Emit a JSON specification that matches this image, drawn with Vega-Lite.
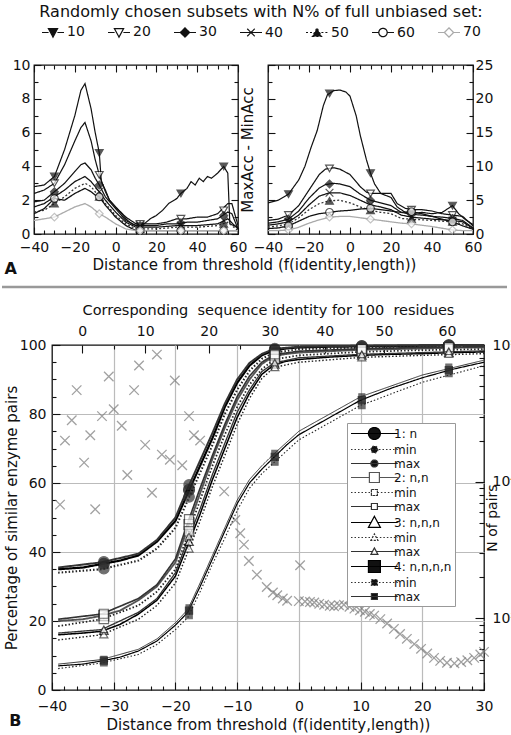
{
  "$schema": "https://vega.github.io/schema/vega-lite/v6.json",
  "padding": {"left": 0, "top": 3, "right": 0, "bottom": 0},
  "background": "white",
  "config": {
    "font": "DejaVu Sans",
    "view": {"stroke": "#111", "strokeWidth": 1.3},
    "axis": {"domain": false, "grid": false, "labelFont": "DejaVu Sans", "labelFontSize": 14, "labelColor": "#111", "tickColor": "#111", "tickWidth": 1.1, "titleFont": "DejaVu Sans", "titleFontWeight": "normal", "titleFontSize": 15, "titleColor": "#111", "labelFlush": false, "labelOverlap": false, "labelBound": false},
    "legend": {"labelFont": "DejaVu Sans", "titleFont": "DejaVu Sans", "labelColor": "#111", "titleColor": "#111"},
    "title": {"font": "DejaVu Sans", "color": "#111"},
    "text": {"font": "DejaVu Sans"}
  },
  "datasets": {
    "aLines": [
      {"p":"L","g":"10","x":-40,"v":2.8},{"p":"L","g":"10","x":-35,"v":2.9},{"p":"L","g":"10","x":-30,"v":3.4},{"p":"L","g":"10","x":-25,"v":5.0},{"p":"L","g":"10","x":-20,"v":7.0},{"p":"L","g":"10","x":-17,"v":8.5},{"p":"L","g":"10","x":-15,"v":8.9},{"p":"L","g":"10","x":-12,"v":7.4},{"p":"L","g":"10","x":-10,"v":6.0},{"p":"L","g":"10","x":-8,"v":4.8},{"p":"L","g":"10","x":-7,"v":3.1},{"p":"L","g":"10","x":-5,"v":2.6},{"p":"L","g":"10","x":-3,"v":2.0},{"p":"L","g":"10","x":0,"v":1.6},{"p":"L","g":"10","x":3,"v":1.2},{"p":"L","g":"10","x":5,"v":0.9},{"p":"L","g":"10","x":8,"v":0.6},{"p":"L","g":"10","x":10,"v":0.5},{"p":"L","g":"10","x":14,"v":0.6},{"p":"L","g":"10","x":17,"v":0.9},{"p":"L","g":"10","x":20,"v":1.1},{"p":"L","g":"10","x":23,"v":1.4},{"p":"L","g":"10","x":26,"v":1.8},{"p":"L","g":"10","x":30,"v":2.1},{"p":"L","g":"10","x":32,"v":2.4},{"p":"L","g":"10","x":35,"v":2.7},{"p":"L","g":"10","x":37,"v":3.1},{"p":"L","g":"10","x":39,"v":2.9},{"p":"L","g":"10","x":41,"v":3.3},{"p":"L","g":"10","x":43,"v":3.1},{"p":"L","g":"10","x":45,"v":3.4},{"p":"L","g":"10","x":47,"v":3.3},{"p":"L","g":"10","x":50,"v":3.6},{"p":"L","g":"10","x":53,"v":4.0},{"p":"L","g":"10","x":55,"v":3.6},{"p":"L","g":"10","x":56,"v":0.6},{"p":"L","g":"10","x":60,"v":0.4},
      {"p":"L","g":"20","x":-40,"v":2.4},{"p":"L","g":"20","x":-35,"v":2.6},{"p":"L","g":"20","x":-30,"v":3.0},{"p":"L","g":"20","x":-25,"v":4.1},{"p":"L","g":"20","x":-20,"v":5.5},{"p":"L","g":"20","x":-17,"v":6.3},{"p":"L","g":"20","x":-15,"v":6.6},{"p":"L","g":"20","x":-12,"v":5.5},{"p":"L","g":"20","x":-10,"v":4.4},{"p":"L","g":"20","x":-8,"v":3.5},{"p":"L","g":"20","x":-5,"v":2.5},{"p":"L","g":"20","x":-3,"v":2.0},{"p":"L","g":"20","x":0,"v":1.6},{"p":"L","g":"20","x":5,"v":1.0},{"p":"L","g":"20","x":10,"v":0.6},{"p":"L","g":"20","x":15,"v":0.6},{"p":"L","g":"20","x":20,"v":0.6},{"p":"L","g":"20","x":25,"v":0.7},{"p":"L","g":"20","x":30,"v":0.9},{"p":"L","g":"20","x":35,"v":0.9},{"p":"L","g":"20","x":40,"v":1.0},{"p":"L","g":"20","x":45,"v":1.0},{"p":"L","g":"20","x":50,"v":1.2},{"p":"L","g":"20","x":55,"v":1.8},{"p":"L","g":"20","x":57,"v":1.8},{"p":"L","g":"20","x":60,"v":0.5},
      {"p":"L","g":"30","x":-40,"v":1.9},{"p":"L","g":"30","x":-35,"v":2.0},{"p":"L","g":"30","x":-30,"v":2.5},{"p":"L","g":"30","x":-25,"v":3.0},{"p":"L","g":"30","x":-20,"v":3.7},{"p":"L","g":"30","x":-17,"v":4.1},{"p":"L","g":"30","x":-15,"v":4.2},{"p":"L","g":"30","x":-12,"v":3.8},{"p":"L","g":"30","x":-10,"v":3.3},{"p":"L","g":"30","x":-8,"v":2.9},{"p":"L","g":"30","x":-5,"v":2.2},{"p":"L","g":"30","x":0,"v":1.5},{"p":"L","g":"30","x":5,"v":0.8},{"p":"L","g":"30","x":10,"v":0.5},{"p":"L","g":"30","x":15,"v":0.5},{"p":"L","g":"30","x":20,"v":0.5},{"p":"L","g":"30","x":25,"v":0.6},{"p":"L","g":"30","x":30,"v":0.6},{"p":"L","g":"30","x":35,"v":0.7},{"p":"L","g":"30","x":40,"v":0.7},{"p":"L","g":"30","x":45,"v":0.8},{"p":"L","g":"30","x":50,"v":0.9},{"p":"L","g":"30","x":55,"v":1.3},{"p":"L","g":"30","x":57,"v":1.2},{"p":"L","g":"30","x":60,"v":0.3},
      {"p":"L","g":"40","x":-40,"v":1.6},{"p":"L","g":"40","x":-35,"v":1.8},{"p":"L","g":"40","x":-30,"v":2.2},{"p":"L","g":"40","x":-25,"v":2.6},{"p":"L","g":"40","x":-20,"v":3.1},{"p":"L","g":"40","x":-15,"v":3.4},{"p":"L","g":"40","x":-12,"v":3.1},{"p":"L","g":"40","x":-10,"v":2.8},{"p":"L","g":"40","x":-8,"v":2.5},{"p":"L","g":"40","x":-5,"v":2.0},{"p":"L","g":"40","x":0,"v":1.3},{"p":"L","g":"40","x":5,"v":0.7},{"p":"L","g":"40","x":10,"v":0.4},{"p":"L","g":"40","x":20,"v":0.4},{"p":"L","g":"40","x":30,"v":0.5},{"p":"L","g":"40","x":40,"v":0.5},{"p":"L","g":"40","x":50,"v":0.6},{"p":"L","g":"40","x":55,"v":0.9},{"p":"L","g":"40","x":60,"v":0.3},
      {"p":"L","g":"50","x":-40,"v":1.3},{"p":"L","g":"50","x":-35,"v":1.4},{"p":"L","g":"50","x":-30,"v":1.8},{"p":"L","g":"50","x":-25,"v":2.2},{"p":"L","g":"50","x":-20,"v":2.7},{"p":"L","g":"50","x":-15,"v":3.0},{"p":"L","g":"50","x":-12,"v":2.8},{"p":"L","g":"50","x":-10,"v":2.5},{"p":"L","g":"50","x":-8,"v":2.2},{"p":"L","g":"50","x":-5,"v":1.8},{"p":"L","g":"50","x":0,"v":1.1},{"p":"L","g":"50","x":5,"v":0.6},{"p":"L","g":"50","x":10,"v":0.3},{"p":"L","g":"50","x":20,"v":0.3},{"p":"L","g":"50","x":30,"v":0.4},{"p":"L","g":"50","x":40,"v":0.4},{"p":"L","g":"50","x":50,"v":0.5},{"p":"L","g":"50","x":55,"v":0.7},{"p":"L","g":"50","x":60,"v":0.2},
      {"p":"L","g":"60","x":-40,"v":1.2},{"p":"L","g":"60","x":-35,"v":1.5},{"p":"L","g":"60","x":-30,"v":2.1},{"p":"L","g":"60","x":-25,"v":2.0},{"p":"L","g":"60","x":-20,"v":2.4},{"p":"L","g":"60","x":-15,"v":2.7},{"p":"L","g":"60","x":-12,"v":2.5},{"p":"L","g":"60","x":-10,"v":2.3},{"p":"L","g":"60","x":-8,"v":2.2},{"p":"L","g":"60","x":-5,"v":1.7},{"p":"L","g":"60","x":0,"v":1.0},{"p":"L","g":"60","x":5,"v":0.5},{"p":"L","g":"60","x":10,"v":0.2},{"p":"L","g":"60","x":20,"v":0.2},{"p":"L","g":"60","x":30,"v":0.2},{"p":"L","g":"60","x":40,"v":0.2},{"p":"L","g":"60","x":50,"v":0.2},{"p":"L","g":"60","x":60,"v":0.2},
      {"p":"L","g":"70","x":-40,"v":0.8},{"p":"L","g":"70","x":-35,"v":0.9},{"p":"L","g":"70","x":-30,"v":1.0},{"p":"L","g":"70","x":-25,"v":1.3},{"p":"L","g":"70","x":-20,"v":1.6},{"p":"L","g":"70","x":-15,"v":1.8},{"p":"L","g":"70","x":-12,"v":1.6},{"p":"L","g":"70","x":-10,"v":1.4},{"p":"L","g":"70","x":-8,"v":1.2},{"p":"L","g":"70","x":-5,"v":1.0},{"p":"L","g":"70","x":0,"v":0.6},{"p":"L","g":"70","x":5,"v":0.3},{"p":"L","g":"70","x":10,"v":0.2},{"p":"L","g":"70","x":20,"v":0.2},{"p":"L","g":"70","x":30,"v":0.2},{"p":"L","g":"70","x":40,"v":0.2},{"p":"L","g":"70","x":50,"v":0.2},{"p":"L","g":"70","x":60,"v":0.2},
      {"p":"R","g":"10","x":-40,"v":4.6},{"p":"R","g":"10","x":-35,"v":5.0},{"p":"R","g":"10","x":-30,"v":5.9},{"p":"R","g":"10","x":-25,"v":8.0},{"p":"R","g":"10","x":-22,"v":10.0},{"p":"R","g":"10","x":-19,"v":12.8},{"p":"R","g":"10","x":-16,"v":15.3},{"p":"R","g":"10","x":-13,"v":19.0},{"p":"R","g":"10","x":-11,"v":20.6},{"p":"R","g":"10","x":-8,"v":21.2},{"p":"R","g":"10","x":-5,"v":21.3},{"p":"R","g":"10","x":-2,"v":21.0},{"p":"R","g":"10","x":0,"v":20.4},{"p":"R","g":"10","x":3,"v":17.5},{"p":"R","g":"10","x":5,"v":14.6},{"p":"R","g":"10","x":8,"v":11.0},{"p":"R","g":"10","x":10,"v":9.0},{"p":"R","g":"10","x":12,"v":7.4},{"p":"R","g":"10","x":15,"v":6.0},{"p":"R","g":"10","x":20,"v":5.4},{"p":"R","g":"10","x":23,"v":4.0},{"p":"R","g":"10","x":27,"v":3.2},{"p":"R","g":"10","x":30,"v":3.0},{"p":"R","g":"10","x":35,"v":3.2},{"p":"R","g":"10","x":40,"v":3.0},{"p":"R","g":"10","x":45,"v":3.2},{"p":"R","g":"10","x":50,"v":4.2},{"p":"R","g":"10","x":53,"v":3.0},{"p":"R","g":"10","x":56,"v":2.2},{"p":"R","g":"10","x":60,"v":1.4},
      {"p":"R","g":"20","x":-40,"v":2.0},{"p":"R","g":"20","x":-35,"v":2.2},{"p":"R","g":"20","x":-30,"v":2.8},{"p":"R","g":"20","x":-25,"v":4.2},{"p":"R","g":"20","x":-20,"v":6.5},{"p":"R","g":"20","x":-15,"v":8.8},{"p":"R","g":"20","x":-12,"v":9.6},{"p":"R","g":"20","x":-8,"v":9.8},{"p":"R","g":"20","x":-5,"v":9.6},{"p":"R","g":"20","x":0,"v":8.8},{"p":"R","g":"20","x":5,"v":7.0},{"p":"R","g":"20","x":8,"v":6.2},{"p":"R","g":"20","x":10,"v":6.0},{"p":"R","g":"20","x":15,"v":6.0},{"p":"R","g":"20","x":20,"v":6.0},{"p":"R","g":"20","x":23,"v":4.5},{"p":"R","g":"20","x":27,"v":3.8},{"p":"R","g":"20","x":30,"v":3.6},{"p":"R","g":"20","x":35,"v":3.6},{"p":"R","g":"20","x":40,"v":3.4},{"p":"R","g":"20","x":45,"v":3.0},{"p":"R","g":"20","x":50,"v":2.8},{"p":"R","g":"20","x":55,"v":2.6},{"p":"R","g":"20","x":60,"v":1.2},
      {"p":"R","g":"30","x":-40,"v":1.6},{"p":"R","g":"30","x":-35,"v":1.8},{"p":"R","g":"30","x":-30,"v":2.2},{"p":"R","g":"30","x":-25,"v":3.4},{"p":"R","g":"30","x":-20,"v":5.3},{"p":"R","g":"30","x":-15,"v":6.8},{"p":"R","g":"30","x":-12,"v":7.3},{"p":"R","g":"30","x":-8,"v":7.5},{"p":"R","g":"30","x":-5,"v":7.4},{"p":"R","g":"30","x":0,"v":7.0},{"p":"R","g":"30","x":5,"v":5.9},{"p":"R","g":"30","x":10,"v":5.0},{"p":"R","g":"30","x":15,"v":4.6},{"p":"R","g":"30","x":20,"v":4.2},{"p":"R","g":"30","x":25,"v":3.2},{"p":"R","g":"30","x":30,"v":2.9},{"p":"R","g":"30","x":35,"v":2.8},{"p":"R","g":"30","x":40,"v":2.6},{"p":"R","g":"30","x":45,"v":2.5},{"p":"R","g":"30","x":50,"v":2.3},{"p":"R","g":"30","x":55,"v":2.0},{"p":"R","g":"30","x":60,"v":0.9},
      {"p":"R","g":"40","x":-40,"v":1.3},{"p":"R","g":"40","x":-35,"v":1.5},{"p":"R","g":"40","x":-30,"v":1.8},{"p":"R","g":"40","x":-25,"v":2.8},{"p":"R","g":"40","x":-20,"v":4.3},{"p":"R","g":"40","x":-15,"v":5.6},{"p":"R","g":"40","x":-10,"v":6.1},{"p":"R","g":"40","x":-5,"v":6.1},{"p":"R","g":"40","x":0,"v":5.7},{"p":"R","g":"40","x":5,"v":5.0},{"p":"R","g":"40","x":10,"v":4.3},{"p":"R","g":"40","x":15,"v":4.0},{"p":"R","g":"40","x":20,"v":3.6},{"p":"R","g":"40","x":25,"v":2.8},{"p":"R","g":"40","x":30,"v":2.5},{"p":"R","g":"40","x":40,"v":2.2},{"p":"R","g":"40","x":50,"v":2.0},{"p":"R","g":"40","x":55,"v":1.8},{"p":"R","g":"40","x":60,"v":0.8},
      {"p":"R","g":"50","x":-40,"v":1.0},{"p":"R","g":"50","x":-35,"v":1.2},{"p":"R","g":"50","x":-30,"v":1.5},{"p":"R","g":"50","x":-25,"v":2.4},{"p":"R","g":"50","x":-20,"v":3.6},{"p":"R","g":"50","x":-15,"v":4.5},{"p":"R","g":"50","x":-10,"v":4.9},{"p":"R","g":"50","x":-5,"v":5.0},{"p":"R","g":"50","x":0,"v":4.6},{"p":"R","g":"50","x":5,"v":4.0},{"p":"R","g":"50","x":10,"v":3.5},{"p":"R","g":"50","x":15,"v":3.2},{"p":"R","g":"50","x":20,"v":3.0},{"p":"R","g":"50","x":25,"v":2.3},{"p":"R","g":"50","x":30,"v":2.2},{"p":"R","g":"50","x":40,"v":2.0},{"p":"R","g":"50","x":50,"v":1.8},{"p":"R","g":"50","x":55,"v":1.5},{"p":"R","g":"50","x":60,"v":0.7},
      {"p":"R","g":"60","x":-40,"v":0.8},{"p":"R","g":"60","x":-35,"v":0.9},{"p":"R","g":"60","x":-30,"v":1.2},{"p":"R","g":"60","x":-25,"v":1.9},{"p":"R","g":"60","x":-20,"v":2.6},{"p":"R","g":"60","x":-15,"v":3.0},{"p":"R","g":"60","x":-10,"v":3.2},{"p":"R","g":"60","x":-5,"v":3.4},{"p":"R","g":"60","x":0,"v":3.5},{"p":"R","g":"60","x":5,"v":3.7},{"p":"R","g":"60","x":10,"v":3.8},{"p":"R","g":"60","x":15,"v":3.6},{"p":"R","g":"60","x":20,"v":3.4},{"p":"R","g":"60","x":25,"v":3.2},{"p":"R","g":"60","x":30,"v":3.3},{"p":"R","g":"60","x":35,"v":3.0},{"p":"R","g":"60","x":40,"v":2.6},{"p":"R","g":"60","x":45,"v":2.2},{"p":"R","g":"60","x":50,"v":1.8},{"p":"R","g":"60","x":55,"v":1.2},{"p":"R","g":"60","x":60,"v":0.7},
      {"p":"R","g":"70","x":-40,"v":0.5},{"p":"R","g":"70","x":-35,"v":0.5},{"p":"R","g":"70","x":-30,"v":0.6},{"p":"R","g":"70","x":-25,"v":1.0},{"p":"R","g":"70","x":-20,"v":1.6},{"p":"R","g":"70","x":-15,"v":2.1},{"p":"R","g":"70","x":-10,"v":2.5},{"p":"R","g":"70","x":-5,"v":2.6},{"p":"R","g":"70","x":0,"v":2.6},{"p":"R","g":"70","x":5,"v":2.4},{"p":"R","g":"70","x":10,"v":2.2},{"p":"R","g":"70","x":15,"v":2.0},{"p":"R","g":"70","x":20,"v":1.8},{"p":"R","g":"70","x":25,"v":1.6},{"p":"R","g":"70","x":30,"v":1.5},{"p":"R","g":"70","x":40,"v":1.1},{"p":"R","g":"70","x":50,"v":0.6},{"p":"R","g":"70","x":55,"v":0.5},{"p":"R","g":"70","x":60,"v":0.5}
    ],
    "aMarks": [
      {"p":"L","g":"10","x":-30,"v":3.4},{"p":"L","g":"10","x":-8,"v":4.8},{"p":"L","g":"10","x":12,"v":0.5},{"p":"L","g":"10","x":32,"v":2.4},{"p":"L","g":"10","x":53,"v":4.0},
      {"p":"L","g":"20","x":-30,"v":3.0},{"p":"L","g":"20","x":-8,"v":3.5},{"p":"L","g":"20","x":12,"v":0.6},{"p":"L","g":"20","x":32,"v":0.9},{"p":"L","g":"20","x":53,"v":1.4},
      {"p":"L","g":"30","x":-30,"v":2.5},{"p":"L","g":"30","x":-8,"v":2.9},{"p":"L","g":"30","x":12,"v":0.5},{"p":"L","g":"30","x":32,"v":0.65},{"p":"L","g":"30","x":53,"v":1.1},
      {"p":"L","g":"40","x":-30,"v":2.2},{"p":"L","g":"40","x":-8,"v":2.5},{"p":"L","g":"40","x":12,"v":0.4},{"p":"L","g":"40","x":32,"v":0.5},{"p":"L","g":"40","x":53,"v":0.8},
      {"p":"L","g":"50","x":-30,"v":1.8},{"p":"L","g":"50","x":-8,"v":2.2},{"p":"L","g":"50","x":12,"v":0.3},{"p":"L","g":"50","x":32,"v":0.4},{"p":"L","g":"50","x":53,"v":0.6},
      {"p":"L","g":"60","x":-30,"v":2.1},{"p":"L","g":"60","x":-8,"v":2.2},{"p":"L","g":"60","x":12,"v":0.2},{"p":"L","g":"60","x":32,"v":0.2},{"p":"L","g":"60","x":53,"v":0.2},
      {"p":"L","g":"70","x":-30,"v":1.0},{"p":"L","g":"70","x":-8,"v":1.2},{"p":"L","g":"70","x":12,"v":0.2},{"p":"L","g":"70","x":32,"v":0.2},{"p":"L","g":"70","x":53,"v":0.2},
      {"p":"R","g":"10","x":-30,"v":5.9},{"p":"R","g":"10","x":-10,"v":20.8},{"p":"R","g":"10","x":10,"v":9.0},{"p":"R","g":"10","x":30,"v":3.0},{"p":"R","g":"10","x":50,"v":4.2},
      {"p":"R","g":"20","x":-30,"v":2.8},{"p":"R","g":"20","x":-10,"v":9.7},{"p":"R","g":"20","x":10,"v":6.0},{"p":"R","g":"20","x":30,"v":3.6},{"p":"R","g":"20","x":50,"v":2.8},
      {"p":"R","g":"30","x":-30,"v":2.2},{"p":"R","g":"30","x":-10,"v":7.4},{"p":"R","g":"30","x":10,"v":5.0},{"p":"R","g":"30","x":30,"v":2.9},{"p":"R","g":"30","x":50,"v":2.3},
      {"p":"R","g":"40","x":-30,"v":1.8},{"p":"R","g":"40","x":-10,"v":6.1},{"p":"R","g":"40","x":10,"v":4.3},{"p":"R","g":"40","x":30,"v":2.5},{"p":"R","g":"40","x":50,"v":2.0},
      {"p":"R","g":"50","x":-30,"v":1.5},{"p":"R","g":"50","x":-10,"v":4.9},{"p":"R","g":"50","x":10,"v":3.5},{"p":"R","g":"50","x":30,"v":2.2},{"p":"R","g":"50","x":50,"v":1.8},
      {"p":"R","g":"60","x":-30,"v":1.2},{"p":"R","g":"60","x":-10,"v":3.2},{"p":"R","g":"60","x":10,"v":3.8},{"p":"R","g":"60","x":30,"v":3.3},{"p":"R","g":"60","x":50,"v":1.8},
      {"p":"R","g":"70","x":-30,"v":0.6},{"p":"R","g":"70","x":-10,"v":2.5},{"p":"R","g":"70","x":10,"v":2.2},{"p":"R","g":"70","x":30,"v":1.5},{"p":"R","g":"70","x":50,"v":0.6}
    ],
    "bLines": [
      {"s":"1","x":-39,"p":35},{"s":"1","x":-35,"p":35.5},{"s":"1","x":-32,"p":36.5},{"s":"1","x":-29,"p":37.5},{"s":"1","x":-26,"p":39},{"s":"1","x":-23,"p":43},{"s":"1","x":-20,"p":49},{"s":"1","x":-18,"p":57},{"s":"1","x":-16,"p":65},{"s":"1","x":-14,"p":73},{"s":"1","x":-12,"p":82},{"s":"1","x":-10,"p":89},{"s":"1","x":-8,"p":94},{"s":"1","x":-6,"p":97},{"s":"1","x":-4,"p":98.5},{"s":"1","x":-2,"p":99},{"s":"1","x":0,"p":99.3},{"s":"1","x":5,"p":99.5},{"s":"1","x":10,"p":99.6},{"s":"1","x":15,"p":99.7},{"s":"1","x":20,"p":99.8},{"s":"1","x":25,"p":99.9},{"s":"1","x":30,"p":100},
      {"s":"2","x":-39,"p":20},{"s":"2","x":-35,"p":20.5},{"s":"2","x":-32,"p":21.5},{"s":"2","x":-29,"p":23},{"s":"2","x":-26,"p":26},{"s":"2","x":-23,"p":30},{"s":"2","x":-20,"p":37},{"s":"2","x":-18,"p":47},{"s":"2","x":-16,"p":57},{"s":"2","x":-14,"p":67},{"s":"2","x":-12,"p":76},{"s":"2","x":-10,"p":84},{"s":"2","x":-8,"p":90},{"s":"2","x":-6,"p":94.5},{"s":"2","x":-4,"p":96.8},{"s":"2","x":-2,"p":97.4},{"s":"2","x":0,"p":97.8},{"s":"2","x":5,"p":98.2},{"s":"2","x":10,"p":98.6},{"s":"2","x":15,"p":98.8},{"s":"2","x":20,"p":99},{"s":"2","x":25,"p":99.2},{"s":"2","x":30,"p":99.3},
      {"s":"3","x":-39,"p":16},{"s":"3","x":-35,"p":16.5},{"s":"3","x":-32,"p":17},{"s":"3","x":-29,"p":19},{"s":"3","x":-26,"p":22},{"s":"3","x":-23,"p":26},{"s":"3","x":-20,"p":33},{"s":"3","x":-18,"p":42},{"s":"3","x":-16,"p":51},{"s":"3","x":-14,"p":61},{"s":"3","x":-12,"p":70},{"s":"3","x":-10,"p":79},{"s":"3","x":-8,"p":86},{"s":"3","x":-6,"p":91.5},{"s":"3","x":-4,"p":94.3},{"s":"3","x":-2,"p":95.3},{"s":"3","x":0,"p":95.8},{"s":"3","x":5,"p":96.5},{"s":"3","x":10,"p":97},{"s":"3","x":15,"p":97.3},{"s":"3","x":20,"p":97.5},{"s":"3","x":25,"p":97.8},{"s":"3","x":30,"p":98},
      {"s":"4","x":-39,"p":7},{"s":"4","x":-35,"p":7.5},{"s":"4","x":-32,"p":8.4},{"s":"4","x":-29,"p":9.5},{"s":"4","x":-26,"p":11.3},{"s":"4","x":-23,"p":14.2},{"s":"4","x":-20,"p":18.8},{"s":"4","x":-18,"p":22.5},{"s":"4","x":-16,"p":30},{"s":"4","x":-14,"p":38},{"s":"4","x":-12,"p":46},{"s":"4","x":-10,"p":54},{"s":"4","x":-8,"p":60},{"s":"4","x":-6,"p":64},{"s":"4","x":-4,"p":67.5},{"s":"4","x":-2,"p":71},{"s":"4","x":0,"p":74},{"s":"4","x":5,"p":79},{"s":"4","x":10,"p":84},{"s":"4","x":15,"p":87.5},{"s":"4","x":20,"p":90.5},{"s":"4","x":25,"p":93},{"s":"4","x":30,"p":95},
      {"s":"1 min","x":-39,"p":34},{"s":"1 min","x":-32,"p":35},{"s":"1 min","x":-26,"p":37.5},{"s":"1 min","x":-23,"p":41},{"s":"1 min","x":-20,"p":47},{"s":"1 min","x":-18,"p":55},{"s":"1 min","x":-16,"p":63},{"s":"1 min","x":-14,"p":71},{"s":"1 min","x":-12,"p":80},{"s":"1 min","x":-10,"p":87},{"s":"1 min","x":-8,"p":92.5},{"s":"1 min","x":-6,"p":96},{"s":"1 min","x":-4,"p":97.8},{"s":"1 min","x":0,"p":98.8},{"s":"1 min","x":10,"p":99.3},{"s":"1 min","x":20,"p":99.6},{"s":"1 min","x":30,"p":99.8},
      {"s":"1 max","x":-39,"p":35.5},{"s":"1 max","x":-32,"p":37},{"s":"1 max","x":-26,"p":39.5},{"s":"1 max","x":-23,"p":43.5},{"s":"1 max","x":-20,"p":50},{"s":"1 max","x":-18,"p":58.5},{"s":"1 max","x":-16,"p":66.5},{"s":"1 max","x":-14,"p":74.5},{"s":"1 max","x":-12,"p":83},{"s":"1 max","x":-10,"p":90},{"s":"1 max","x":-8,"p":94.8},{"s":"1 max","x":-6,"p":97.4},{"s":"1 max","x":-4,"p":98.9},{"s":"1 max","x":0,"p":99.5},{"s":"1 max","x":10,"p":99.8},{"s":"1 max","x":20,"p":99.9},{"s":"1 max","x":30,"p":100},
      {"s":"2 min","x":-39,"p":18.5},{"s":"2 min","x":-32,"p":20.5},{"s":"2 min","x":-26,"p":24.5},{"s":"2 min","x":-23,"p":28.5},{"s":"2 min","x":-20,"p":35},{"s":"2 min","x":-18,"p":45},{"s":"2 min","x":-16,"p":55},{"s":"2 min","x":-14,"p":65},{"s":"2 min","x":-12,"p":74},{"s":"2 min","x":-10,"p":82},{"s":"2 min","x":-8,"p":88.5},{"s":"2 min","x":-6,"p":93},{"s":"2 min","x":-4,"p":95.8},{"s":"2 min","x":0,"p":97},{"s":"2 min","x":10,"p":98},{"s":"2 min","x":20,"p":98.5},{"s":"2 min","x":30,"p":98.8},
      {"s":"2 max","x":-39,"p":20.5},{"s":"2 max","x":-32,"p":22},{"s":"2 max","x":-26,"p":26.5},{"s":"2 max","x":-23,"p":30.5},{"s":"2 max","x":-20,"p":38},{"s":"2 max","x":-18,"p":48.5},{"s":"2 max","x":-16,"p":58.5},{"s":"2 max","x":-14,"p":68},{"s":"2 max","x":-12,"p":77},{"s":"2 max","x":-10,"p":85},{"s":"2 max","x":-8,"p":91},{"s":"2 max","x":-6,"p":95},{"s":"2 max","x":-4,"p":97.2},{"s":"2 max","x":0,"p":98.2},{"s":"2 max","x":10,"p":98.9},{"s":"2 max","x":20,"p":99.3},{"s":"2 max","x":30,"p":99.5},
      {"s":"3 min","x":-39,"p":14.5},{"s":"3 min","x":-32,"p":16},{"s":"3 min","x":-26,"p":20.5},{"s":"3 min","x":-23,"p":24.5},{"s":"3 min","x":-20,"p":31},{"s":"3 min","x":-18,"p":40},{"s":"3 min","x":-16,"p":49},{"s":"3 min","x":-14,"p":59},{"s":"3 min","x":-12,"p":68},{"s":"3 min","x":-10,"p":77},{"s":"3 min","x":-8,"p":84.5},{"s":"3 min","x":-6,"p":90.3},{"s":"3 min","x":-4,"p":93.5},{"s":"3 min","x":0,"p":95},{"s":"3 min","x":10,"p":96.4},{"s":"3 min","x":20,"p":97},{"s":"3 min","x":30,"p":97.5},
      {"s":"3 max","x":-39,"p":16.5},{"s":"3 max","x":-32,"p":17.5},{"s":"3 max","x":-26,"p":22.5},{"s":"3 max","x":-23,"p":26.5},{"s":"3 max","x":-20,"p":34},{"s":"3 max","x":-18,"p":43.5},{"s":"3 max","x":-16,"p":52.5},{"s":"3 max","x":-14,"p":62.5},{"s":"3 max","x":-12,"p":71.5},{"s":"3 max","x":-10,"p":80.5},{"s":"3 max","x":-8,"p":87},{"s":"3 max","x":-6,"p":92.3},{"s":"3 max","x":-4,"p":94.8},{"s":"3 max","x":0,"p":96.3},{"s":"3 max","x":10,"p":97.3},{"s":"3 max","x":20,"p":97.8},{"s":"3 max","x":30,"p":98.3},
      {"s":"4 min","x":-39,"p":6.2},{"s":"4 min","x":-32,"p":7.8},{"s":"4 min","x":-26,"p":10.3},{"s":"4 min","x":-23,"p":13.2},{"s":"4 min","x":-20,"p":17.5},{"s":"4 min","x":-18,"p":21},{"s":"4 min","x":-16,"p":28.5},{"s":"4 min","x":-14,"p":36.5},{"s":"4 min","x":-12,"p":44},{"s":"4 min","x":-10,"p":52},{"s":"4 min","x":-8,"p":58.5},{"s":"4 min","x":-6,"p":62.7},{"s":"4 min","x":-4,"p":66},{"s":"4 min","x":0,"p":72.5},{"s":"4 min","x":10,"p":82.5},{"s":"4 min","x":20,"p":89.2},{"s":"4 min","x":30,"p":94},
      {"s":"4 max","x":-39,"p":7.5},{"s":"4 max","x":-32,"p":8.8},{"s":"4 max","x":-26,"p":11.8},{"s":"4 max","x":-23,"p":14.8},{"s":"4 max","x":-20,"p":19.5},{"s":"4 max","x":-18,"p":23.3},{"s":"4 max","x":-16,"p":31},{"s":"4 max","x":-14,"p":39},{"s":"4 max","x":-12,"p":47},{"s":"4 max","x":-10,"p":55},{"s":"4 max","x":-8,"p":61},{"s":"4 max","x":-6,"p":65},{"s":"4 max","x":-4,"p":68.5},{"s":"4 max","x":0,"p":75},{"s":"4 max","x":10,"p":85},{"s":"4 max","x":20,"p":91.3},{"s":"4 max","x":30,"p":95.6}
    ],
    "bMarks": [
      {"s":"1","x":-31.6,"p":36.6},{"s":"1","x":-17.8,"p":58},{"s":"1","x":-3.9,"p":98.6},{"s":"1","x":10.2,"p":99.6},{"s":"1","x":24.3,"p":99.9},
      {"s":"1 min","x":-31.6,"p":35.2},{"s":"1 min","x":-17.8,"p":56},{"s":"1 min","x":-3.9,"p":97.9},{"s":"1 min","x":10.2,"p":99.3},{"s":"1 min","x":24.3,"p":99.7},
      {"s":"1 max","x":-31.6,"p":37.2},{"s":"1 max","x":-17.8,"p":59.5},{"s":"1 max","x":-3.9,"p":99},{"s":"1 max","x":10.2,"p":99.8},{"s":"1 max","x":24.3,"p":100},
      {"s":"2","x":-31.6,"p":21.6},{"s":"2","x":-17.8,"p":48},{"s":"2","x":-3.9,"p":96.9},{"s":"2","x":10.2,"p":98.6},{"s":"2","x":24.3,"p":99.2},
      {"s":"2 min","x":-31.6,"p":20.6},{"s":"2 min","x":-17.8,"p":46},{"s":"2 min","x":-3.9,"p":95.9},{"s":"2 min","x":10.2,"p":98},{"s":"2 min","x":24.3,"p":98.8},
      {"s":"2 max","x":-31.6,"p":22.1},{"s":"2 max","x":-17.8,"p":49.5},{"s":"2 max","x":-3.9,"p":97.3},{"s":"2 max","x":10.2,"p":98.9},{"s":"2 max","x":24.3,"p":99.4},
      {"s":"3","x":-31.6,"p":17.2},{"s":"3","x":-17.8,"p":43},{"s":"3","x":-3.9,"p":94.4},{"s":"3","x":10.2,"p":97},{"s":"3","x":24.3,"p":97.8},
      {"s":"3 min","x":-31.6,"p":16.1},{"s":"3 min","x":-17.8,"p":41},{"s":"3 min","x":-3.9,"p":93.6},{"s":"3 min","x":10.2,"p":96.4},{"s":"3 min","x":24.3,"p":97.4},
      {"s":"3 max","x":-31.6,"p":17.6},{"s":"3 max","x":-17.8,"p":44.5},{"s":"3 max","x":-3.9,"p":94.9},{"s":"3 max","x":10.2,"p":97.3},{"s":"3 max","x":24.3,"p":98.2},
      {"s":"4","x":-31.6,"p":8.5},{"s":"4","x":-17.8,"p":23},{"s":"4","x":-3.9,"p":67.6},{"s":"4","x":10.2,"p":84},{"s":"4","x":24.3,"p":92.7},
      {"s":"4 min","x":-31.6,"p":7.9},{"s":"4 min","x":-17.8,"p":21.6},{"s":"4 min","x":-3.9,"p":66.1},{"s":"4 min","x":10.2,"p":82.5},{"s":"4 min","x":24.3,"p":91.8},
      {"s":"4 max","x":-31.6,"p":8.9},{"s":"4 max","x":-17.8,"p":23.8},{"s":"4 max","x":-3.9,"p":68.6},{"s":"4 max","x":10.2,"p":85},{"s":"4 max","x":24.3,"p":93.6}
    ],
    "bN": [
      {"x":-36,"n":46800},{"x":-30.8,"n":58900},{"x":-25.9,"n":70800},{"x":-23,"n":85100},{"x":-26.7,"n":46800},{"x":-20.1,"n":55000},{"x":-36.8,"n":28200},{"x":-31.9,"n":30200},{"x":-30,"n":33900},{"x":-28.7,"n":25700},{"x":-33.8,"n":21900},{"x":-37.9,"n":20000},{"x":-34.8,"n":13800},{"x":-24.9,"n":18600},{"x":-22.2,"n":15800},{"x":-20.9,"n":14500},{"x":-18.9,"n":13200},{"x":-17.8,"n":30200},{"x":-17,"n":21900},{"x":-16,"n":20000},{"x":-27.8,"n":11200},{"x":-23.8,"n":8300},{"x":-38.7,"n":6800},{"x":-33,"n":6300},
      {"x":-12.1,"n":8500},{"x":-10.3,"n":5250},{"x":-9.5,"n":4200},{"x":-8.9,"n":3470},{"x":-8.1,"n":2630},{"x":-6.8,"n":2090},{"x":-5.2,"n":1700},{"x":-4.2,"n":1550},{"x":-3.5,"n":1480},{"x":-2.6,"n":1400},{"x":-1.9,"n":1350},{"x":0.2,"n":2450},{"x":0,"n":1340},{"x":1,"n":1330},{"x":1.8,"n":1320},{"x":2.5,"n":1310},{"x":3.3,"n":1280},{"x":4.1,"n":1260},{"x":5,"n":1240},{"x":5.7,"n":1230},{"x":6.5,"n":1250},{"x":7.3,"n":1260},{"x":8.2,"n":1220},{"x":9,"n":1180},{"x":9.9,"n":1150},{"x":10.7,"n":1120},{"x":11.5,"n":1080},{"x":12.2,"n":1050},{"x":13.2,"n":990},{"x":14.3,"n":920},{"x":15.4,"n":840},{"x":16.4,"n":770},{"x":17.5,"n":710},{"x":18.7,"n":650},{"x":19.8,"n":600},{"x":20.8,"n":555},{"x":21.9,"n":515},{"x":22.9,"n":490},{"x":24,"n":475},{"x":25.2,"n":470},{"x":26.3,"n":480},{"x":27.3,"n":495},{"x":28.4,"n":515},{"x":29.4,"n":545},{"x":30,"n":570}
    ]
  },
  "vconcat": [
    {
      "hconcat": [
        {
          "width": 1, "height": 1,
          "view": {"stroke": null},
          "data": {"values": [{}]},
          "mark": {"type": "point", "opacity": 0, "size": 0, "strokeWidth": 0},
          "encoding": {}
        },
        {
          "hconcat": [
            {
              "width": 204, "height": 169,
              "layer": [
                {
                  "data": {"name": "aLines"},
                  "transform": [{"filter": "datum.p == 'L'"}],
                  "mark": {"type": "line", "clip": true},
                  "encoding": {
                    "x": {"field": "x", "type": "quantitative", "scale": {"domain": [-40, 60], "nice": false, "zero": false},
                          "axis": {"orient": "bottom", "values": [-40,-35,-30,-25,-20,-15,-10,-5,0,5,10,15,20,25,30,35,40,45,50,55,60], "labelExpr": "datum.value % 20 == 0 ? datum.label : ''", "tickSize": {"condition": {"test": "datum.value % 20 == 0", "value": -7}, "value": -4}, "labelPadding": 13, "title": "A", "titleX": -30, "titleAlign": "left", "titleAnchor": "start", "titleFontWeight": "bold", "titleFontSize": 16, "titlePadding": 3}},
                    "y": {"field": "v", "type": "quantitative", "scale": {"domain": [0, 10], "nice": false},
                          "axis": {"orient": "left", "values": [0,1,2,3,4,5,6,7,8,9,10], "labelExpr": "datum.value % 2 == 0 ? datum.label : ''", "tickSize": {"condition": {"test": "datum.value % 2 == 0", "value": -7}, "value": -4}, "labelPadding": 11, "title": null}},
                    "stroke": {"field": "g", "type": "nominal", "scale": {"domain": ["10","20","30","40","50","60","70"], "range": ["#111","#111","#111","#111","#333","#111","#aaaaaa"]}, "legend": null},
                    "strokeDash": {"field": "g", "type": "nominal", "scale": {"domain": ["10","20","30","40","50","60","70"], "range": [[1,0],[1,0],[1,0],[1,0],[2,2],[1,0],[1,0]]}, "legend": null},
                    "strokeWidth": {"field": "g", "type": "ordinal", "scale": {"domain": ["10","20","30","40","50","60","70"], "range": [1.2,1.3,1.8,1,1.2,1.4,1.4]}, "legend": null}
                  }
                },
                {
                  "data": {"name": "aMarks"},
                  "transform": [{"filter": "datum.p == 'L'"}],
                  "mark": {"type": "point", "filled": true, "size": 60, "strokeWidth": 1.2},
                  "encoding": {
                    "x": {"field": "x", "type": "quantitative", "scale": {"domain": [-40, 60], "nice": false, "zero": false},
                          "axis": {"orient": "top", "values": [-40,-35,-30,-25,-20,-15,-10,-5,0,5,10,15,20,25,30,35,40,45,50,55,60], "labels": false, "tickSize": {"condition": {"test": "datum.value % 20 == 0", "value": -7}, "value": -4}, "title": null}},
                    "y": {"field": "v", "type": "quantitative", "scale": {"domain": [0, 10], "nice": false},
                          "axis": {"orient": "right", "values": [0,1,2,3,4,5,6,7,8,9,10], "labels": false, "tickSize": {"condition": {"test": "datum.value % 2 == 0", "value": -7}, "value": -4}, "title": null}},
                    "shape": {"field": "g", "type": "nominal", "scale": {"domain": ["10","20","30","40","50","60","70"], "range": ["triangle-down","triangle-down","diamond","M-1,-1L1,1M-1,1L1,-1","triangle-up","circle","diamond"]}, "legend": null},
                    "fill": {"field": "g", "type": "nominal", "scale": {"domain": ["10","20","30","40","50","60","70"], "range": ["#111","#fff","#111","#111","#111","#fff","#fff"]}, "legend": null},
                    "stroke": {"field": "g", "type": "nominal", "scale": {"domain": ["10","20","30","40","50","60","70"], "range": ["#111","#111","#111","#111","#111","#111","#aaaaaa"]}, "legend": null}
                  }
                },
                {
                  "data": {"name": "aMarks"},
                  "transform": [{"filter": "datum.p == 'L'"}],
                  "mark": {"type": "point", "filled": true, "color": "#111", "fill": "#111", "opacity": 0, "size": 484, "strokeWidth": 1.2},
                  "encoding": {
                    "shape": {"field": "g", "type": "nominal", "scale": {"domain": ["10","20","30","40","50","60","70"], "range": ["M-1,0H-0.4M0.4,0H1M-0.42,-0.36H0.42L0,0.42Z","M-1,0H-0.4M0.4,0H1M-0.42,-0.36H0.42L0,0.42ZM-0.42,-0.36L0,0.42L0.42,-0.36Z","M-1,0H-0.42M0.42,0H1M-0.42,0L0,-0.42L0.42,0L0,0.42Z","M-1,0H1M-0.34,-0.34L0.34,0.34M-0.34,0.34L0.34,-0.34","M-1,0H-0.4M0.4,0H1M-0.42,0.36H0.42L0,-0.42Z","M-1,0H-0.38M0.38,0H1M0.38,0A0.38,0.38,0,1,1,-0.38,0A0.38,0.38,0,1,1,0.38,0ZM0.38,0A0.38,0.38,0,1,0,-0.38,0A0.38,0.38,0,1,0,0.38,0Z","M-1,0H-0.42M0.42,0H1M-0.42,0L0,-0.42L0.42,0L0,0.42ZM-0.42,0L0,0.42L0.42,0L0,-0.42Z"]},
                              "legend": {"orient": "none", "legendX": 5, "legendY": -61, "direction": "horizontal", "title": "Randomly chosen subsets with N% of full unbiased set:", "titleLimit": 600, "titleOrient": "top", "titleAnchor": "middle", "titleFontSize": 16, "titleFontWeight": "normal", "titlePadding": 0, "labelFontSize": 14, "symbolSize": 484, "symbolStrokeWidth": 1.2, "columnPadding": 20, "labelOffset": 2,
                                         "encode": {"labels": {"update": {"fill": {"signal": "datum.value == '70' ? '#aaaaaa' : '#111111'"}}},
                                                    "symbols": {"update": {"opacity": {"value": 1}}}}}},
                    "stroke": {"field": "g", "type": "nominal", "scale": {"domain": ["10","20","30","40","50","60","70"], "range": ["#111","#111","#111","#111","#111","#111","#aaaaaa"]}},
                    "strokeDash": {"field": "g", "type": "nominal", "scale": {"domain": ["10","20","30","40","50","60","70"], "range": [[1,0],[1,0],[1,0],[1,0],[2,2],[1,0],[1,0]]}}
                  }
                },
                {
                  "mark": {"type": "text", "fontWeight": "bold", "fontSize": 14, "color": "#111"},
                  "encoding": {
                    "x": {"datum": 24.7, "type": "quantitative", "axis": null},
                    "y": {"datum": 8.4, "type": "quantitative", "axis": null},
                    "text": {"value": "First EC"}
                  }
                }
              ],
              "resolve": {"scale": {"shape": "independent", "fill": "independent", "stroke": "independent", "strokeDash": "independent", "strokeWidth": "independent"}, "axis": {"x": "independent", "y": "independent"}}
            },
            {
              "width": 205, "height": 169,
              "layer": [
                {
                  "data": {"name": "aLines"},
                  "transform": [{"filter": "datum.p == 'R'"}],
                  "mark": {"type": "line", "clip": true},
                  "encoding": {
                    "x": {"field": "x", "type": "quantitative", "scale": {"domain": [-40, 60], "nice": false, "zero": false},
                          "axis": {"orient": "bottom", "values": [-40,-35,-30,-25,-20,-15,-10,-5,0,5,10,15,20,25,30,35,40,45,50,55,60], "labelExpr": "datum.value % 20 == 0 ? datum.label : ''", "tickSize": {"condition": {"test": "datum.value % 20 == 0", "value": -7}, "value": -4}, "labelPadding": 13, "title": null}},
                    "y": {"field": "v", "type": "quantitative", "scale": {"domain": [0, 25], "nice": false},
                          "axis": {"orient": "left", "values": [0,2.5,5,7.5,10,12.5,15,17.5,20,22.5,25], "labels": false, "tickSize": {"condition": {"test": "datum.value % 5 == 0", "value": -7}, "value": -4}, "title": "MaxAcc - MinAcc", "titleFontSize": 15, "titlePadding": 12}},
                    "stroke": {"field": "g", "type": "nominal", "scale": {"domain": ["10","20","30","40","50","60","70"], "range": ["#111","#111","#111","#111","#333","#111","#aaaaaa"]}, "legend": null},
                    "strokeDash": {"field": "g", "type": "nominal", "scale": {"domain": ["10","20","30","40","50","60","70"], "range": [[1,0],[1,0],[1,0],[1,0],[2,2],[1,0],[1,0]]}, "legend": null},
                    "strokeWidth": {"field": "g", "type": "ordinal", "scale": {"domain": ["10","20","30","40","50","60","70"], "range": [1.2,1.3,1.8,1,1.2,1.4,1.4]}, "legend": null}
                  }
                },
                {
                  "data": {"name": "aMarks"},
                  "transform": [{"filter": "datum.p == 'R'"}],
                  "mark": {"type": "point", "filled": true, "size": 60, "strokeWidth": 1.2},
                  "encoding": {
                    "x": {"field": "x", "type": "quantitative", "scale": {"domain": [-40, 60], "nice": false, "zero": false},
                          "axis": {"orient": "top", "values": [-40,-35,-30,-25,-20,-15,-10,-5,0,5,10,15,20,25,30,35,40,45,50,55,60], "labels": false, "tickSize": {"condition": {"test": "datum.value % 20 == 0", "value": -7}, "value": -4}, "title": null}},
                    "y": {"field": "v", "type": "quantitative", "scale": {"domain": [0, 25], "nice": false},
                          "axis": {"orient": "right", "values": [0,2.5,5,7.5,10,12.5,15,17.5,20,22.5,25], "labelExpr": "datum.value % 5 == 0 ? datum.label : ''", "tickSize": {"condition": {"test": "datum.value % 5 == 0", "value": -7}, "value": -4}, "labelPadding": 9, "title": null}},
                    "shape": {"field": "g", "type": "nominal", "scale": {"domain": ["10","20","30","40","50","60","70"], "range": ["triangle-down","triangle-down","diamond","M-1,-1L1,1M-1,1L1,-1","triangle-up","circle","diamond"]}, "legend": null},
                    "fill": {"field": "g", "type": "nominal", "scale": {"domain": ["10","20","30","40","50","60","70"], "range": ["#111","#fff","#111","#111","#111","#fff","#fff"]}, "legend": null},
                    "stroke": {"field": "g", "type": "nominal", "scale": {"domain": ["10","20","30","40","50","60","70"], "range": ["#111","#111","#111","#111","#111","#111","#aaaaaa"]}, "legend": null}
                  }
                },
                {
                  "mark": {"type": "text", "fontWeight": "bold", "fontSize": 14, "color": "#111"},
                  "encoding": {
                    "x": {"datum": 28.3, "type": "quantitative", "axis": null},
                    "y": {"datum": 21.4, "type": "quantitative", "axis": null},
                    "text": {"value": "All four EC"}
                  }
                }
              ],
              "resolve": {"scale": {"shape": "independent", "fill": "independent", "stroke": "independent", "strokeDash": "independent", "strokeWidth": "independent"}, "axis": {"x": "independent", "y": "independent"}}
            }
          ],
          "spacing": 30,
          "bounds": "flush",
          "title": {"text": "Distance from threshold (f(identity,length))", "orient": "bottom", "anchor": "middle", "offset": -19, "dx": 6, "fontSize": 15, "fontWeight": "normal"}
        }
      ],
      "spacing": 0
    },
    {
      "width": 505, "height": 6,
      "view": {"stroke": null},
      "data": {"values": [{}]},
      "mark": {"type": "rule", "color": "#999", "strokeWidth": 2.5},
      "encoding": {"y": {"datum": 1, "type": "quantitative", "scale": {"domain": [0, 1]}, "axis": null}}
    },
    {
      "hconcat": [
        {
          "width": 1, "height": 1,
          "view": {"stroke": null},
          "data": {"values": [{}]},
          "mark": {"type": "point", "opacity": 0, "size": 0, "strokeWidth": 0},
          "encoding": {}
        },
        {
          "width": 432, "height": 345,
          "title": {"text": "B", "orient": "bottom", "anchor": "start", "frame": "bounds", "offset": -19, "fontSize": 16, "fontWeight": "bold", "dx": 5},
          "layer": [
            {
              "data": {"name": "bN"},
              "mark": {"type": "point", "shape": "M-1,-1L1,1M-1,1L1,-1", "size": 90, "stroke": "#7a7a7a", "strokeWidth": 1.3, "filled": false},
              "encoding": {
                "x": {"field": "x", "type": "quantitative", "scale": {"domain": [-40, 30], "nice": false, "zero": false},
                      "axis": {"orient": "top", "values": [-35.1,-30,-24.9,-19.7,-14.6,-9.6,-4.7,-0.2,4.2,9,13.8,19,24], "labelExpr": "datum.value == -35.1 ? '0' : datum.value == -24.9 ? '10' : datum.value == -14.6 ? '20' : datum.value == -4.7 ? '30' : datum.value == 4.2 ? '40' : datum.value == 13.8 ? '50' : datum.value == 24 ? '60' : ''", "tickSize": {"condition": {"test": "indexof([-35.1,-24.9,-14.6,-4.7,4.2,13.8,24], datum.value) >= 0", "value": -8}, "value": -4}, "labelPadding": 15, "title": "Corresponding\u00a0 sequence identity for 100\u00a0 residues", "titleFontSize": 14.5, "titlePadding": 3}},
                "y": {"field": "n", "type": "quantitative", "scale": {"type": "log", "domain": [300, 100000], "nice": false},
                      "axis": {"orient": "right", "values": [300,400,500,600,700,800,900,1000,2000,3000,4000,5000,6000,7000,8000,9000,10000,20000,30000,40000,50000,60000,70000,80000,90000,100000], "labelExpr": "datum.value == 1000 ? '10³' : datum.value == 10000 ? '10⁴' : datum.value == 100000 ? '10⁵' : ''", "tickSize": {"condition": {"test": "datum.value == 1000 || datum.value == 10000 || datum.value == 100000", "value": -9}, "value": -5}, "labelPadding": 17, "title": "N of pairs", "titleFontSize": 14, "titleAngle": 270, "titlePadding": -16}}
              }
            },
            {
              "data": {"name": "bLines"},
              "mark": {"type": "line"},
              "encoding": {
                "x": {"field": "x", "type": "quantitative", "scale": {"domain": [-40, 30], "nice": false, "zero": false},
                      "axis": {"orient": "bottom", "values": [-40,-38,-36,-34,-32,-30,-28,-26,-24,-22,-20,-18,-16,-14,-12,-10,-8,-6,-4,-2,0,2,4,6,8,10,12,14,16,18,20,22,24,26,28,30], "labelExpr": "datum.value % 10 == 0 ? datum.label : ''", "tickSize": {"condition": {"test": "datum.value % 10 == 0", "value": -8}, "value": -4}, "labelPadding": 17, "grid": true, "gridColor": "#bbbbbb", "gridWidth": 1.2, "gridOpacity": {"condition": {"test": "datum.value % 10 == 0 && datum.value > -40 && datum.value < 30", "value": 1}, "value": 0}, "title": "Distance from threshold (f(identity,length))", "titleFontSize": 15, "titlePadding": 0}},
                "y": {"field": "p", "type": "quantitative", "scale": {"domain": [0, 100], "nice": false},
                      "axis": {"orient": "left", "values": [0,5,10,15,20,25,30,35,40,45,50,55,60,65,70,75,80,85,90,95,100], "labelExpr": "datum.value % 20 == 0 ? datum.label : ''", "tickSize": {"condition": {"test": "datum.value % 20 == 0", "value": -8}, "value": -4}, "labelPadding": 14, "grid": true, "gridColor": "#bbbbbb", "gridWidth": 1.2, "gridOpacity": {"condition": {"test": "datum.value % 20 == 0 && datum.value > 0 && datum.value < 100", "value": 1}, "value": 0}, "title": "Percentage of similar enzyme pairs", "titleFontSize": 15, "titlePadding": 0}},
                "stroke": {"field": "s", "type": "nominal", "scale": {"domain": ["1","1 min","1 max","2","2 min","2 max","3","3 min","3 max","4","4 min","4 max"], "range": ["#000","#222","#333","#555","#222","#333","#000","#222","#333","#000","#222","#333"]}, "legend": null},
                "strokeDash": {"field": "s", "type": "nominal", "scale": {"domain": ["1","1 min","1 max","2","2 min","2 max","3","3 min","3 max","4","4 min","4 max"], "range": [[1,0],[1.5,2],[1,0],[1,0],[1.5,2],[1,0],[1,0],[1.5,2],[1,0],[1,0],[1.5,2],[1,0]]}, "legend": null},
                "strokeWidth": {"field": "s", "type": "ordinal", "scale": {"domain": ["1","1 min","1 max","2","2 min","2 max","3","3 min","3 max","4","4 min","4 max"], "range": [2.2,1,0.9,2.4,1,0.9,1.3,1,0.9,2.2,1,0.9]}, "legend": null}
              }
            },
            {
              "data": {"name": "bMarks"},
              "mark": {"type": "point", "filled": true, "strokeWidth": 1.2},
              "encoding": {
                "x": {"field": "x", "type": "quantitative", "scale": {"domain": [-40, 30], "nice": false, "zero": false}, "axis": null},
                "y": {"field": "p", "type": "quantitative", "scale": {"domain": [0, 100], "nice": false}, "axis": null},
                "shape": {"field": "s", "type": "nominal", "scale": {"domain": ["1","1 min","1 max","2","2 min","2 max","3","3 min","3 max","4","4 min","4 max"], "range": ["circle","circle","circle","square","square","square","triangle-up","triangle-up","triangle-up","square","square","square"]}, "legend": null},
                "fill": {"field": "s", "type": "nominal", "scale": {"domain": ["1","1 min","1 max","2","2 min","2 max","3","3 min","3 max","4","4 min","4 max"], "range": ["#000","#333","#333","#fff","#fff","#fff","#fff","#fff","#fff","#000","#333","#333"]}, "legend": null},
                "stroke": {"field": "s", "type": "nominal", "scale": {"domain": ["1","1 min","1 max","2","2 min","2 max","3","3 min","3 max","4","4 min","4 max"], "range": ["#000","#333","#333","#000","#333","#333","#000","#333","#333","#000","#333","#333"]}, "legend": null},
                "size": {"field": "s", "type": "ordinal", "scale": {"domain": ["1","1 min","1 max","2","2 min","2 max","3","3 min","3 max","4","4 min","4 max"], "range": [120,35,35,90,30,30,100,30,30,120,35,35]}, "legend": null}
              }
            },
            {
              "data": {"name": "bMarks"},
              "mark": {"type": "point", "filled": true, "color": "#111", "fill": "#111", "opacity": 0, "size": 169, "strokeWidth": 1.2},
              "encoding": {
                "shape": {"field": "s", "type": "nominal", "scale": {"domain": ["1","1 min","1 max","2","2 min","2 max","3","3 min","3 max","4","4 min","4 max"], "range": ["M-1,0H6.2M3.52,0A0.92,0.92,0,1,1,1.68,0A0.92,0.92,0,1,1,3.52,0Z","M-1,0H6.2M3.14,0A0.54,0.54,0,1,1,2.06,0A0.54,0.54,0,1,1,3.14,0Z","M-1,0H6.2M3.14,0A0.54,0.54,0,1,1,2.06,0A0.54,0.54,0,1,1,3.14,0Z","M-1,0H1.83M3.37,0H6.2M1.83,-0.77H3.37V0.77H1.83ZM1.83,-0.77V0.77H3.37V-0.77Z","M-1,0H2.14M3.06,0H6.2M2.14,-0.46H3.06V0.46H2.14ZM2.14,-0.46V0.46H3.06V-0.46Z","M-1,0H2.14M3.06,0H6.2M2.14,-0.46H3.06V0.46H2.14ZM2.14,-0.46V0.46H3.06V-0.46Z","M-1,0H2.09M3.11,0H6.2M1.68,0.75H3.52L2.6,-0.95ZM1.68,0.75L2.6,-0.95L3.52,0.75Z","M-1,0H2.3M2.9,0H6.2M2.06,0.45H3.14L2.6,-0.55ZM2.06,0.45L2.6,-0.55L3.14,0.45Z","M-1,0H2.3M2.9,0H6.2M2.06,0.45H3.14L2.6,-0.55ZM2.06,0.45L2.6,-0.55L3.14,0.45Z","M-1,0H6.2M1.68,-0.92H3.52V0.92H1.68Z","M-1,0H6.2M2.14,-0.46H3.06V0.46H2.14Z","M-1,0H6.2M2.14,-0.46H3.06V0.46H2.14Z"]},
                          "legend": {"orient": "none", "legendX": 295, "legendY": 78, "title": null, "symbolSize": 169, "symbolStrokeWidth": 1.2, "labelFontSize": 12, "rowPadding": 0, "labelOffset": 29, "padding": 3, "strokeColor": "#999", "fillColor": "white",
                                     "labelExpr": "indexof(datum.value,'min') > 0 ? 'min' : indexof(datum.value,'max') > 0 ? 'max' : datum.value == '1' ? '1: n' : datum.value == '2' ? '2: n,n' : datum.value == '3' ? '3: n,n,n' : '4: n,n,n,n'",
                                     "encode": {"labels": {"update": {"fontSize": {"signal": "length(datum.value) == 1 ? 12.5 : 11.5"}}},
                                                "symbols": {"update": {"opacity": {"value": 1}}}}}},
                "stroke": {"field": "s", "type": "nominal", "scale": {"domain": ["1","1 min","1 max","2","2 min","2 max","3","3 min","3 max","4","4 min","4 max"], "range": ["#000","#333","#333","#555","#333","#333","#000","#333","#333","#000","#333","#333"]}},
                "strokeDash": {"field": "s", "type": "nominal", "scale": {"domain": ["1","1 min","1 max","2","2 min","2 max","3","3 min","3 max","4","4 min","4 max"], "range": [[1,0],[1.5,2],[1,0],[1,0],[1.5,2],[1,0],[1,0],[1.5,2],[1,0],[1,0],[1.5,2],[1,0]]}}
              }
            }
          ],
          "resolve": {"scale": {"y": "independent", "shape": "independent", "fill": "independent", "stroke": "independent", "strokeDash": "independent", "strokeWidth": "independent", "size": "independent"}, "axis": {"x": "independent", "y": "independent"}}
        }
      ],
      "spacing": 0
    }
  ],
  "spacing": 8
}
